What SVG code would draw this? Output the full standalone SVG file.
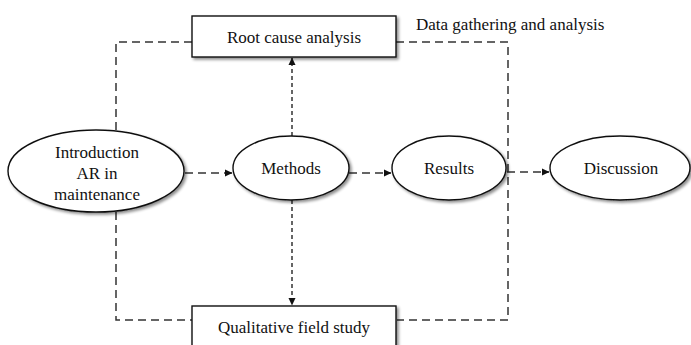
<svg xmlns="http://www.w3.org/2000/svg" width="691" height="345" viewBox="0 0 691 345">
<style>
.shape{fill:#fff;stroke:#111;stroke-width:1.4;filter:url(#sh)}
.t{font-family:'Liberation Serif','Times New Roman','DejaVu Serif',serif;font-size:17px;fill:#111;text-anchor:middle}
.dl{fill:none;stroke:#333;stroke-width:1.5;stroke-dasharray:8 5}
.ds{fill:none;stroke:#333;stroke-width:1.5;stroke-dasharray:4 3}
</style>
<defs>
<filter id="sh" x="-10%" y="-10%" width="130%" height="130%">
<feGaussianBlur in="SourceAlpha" stdDeviation="1.5"/>
<feOffset dx="2" dy="2" result="b"/>
<feComponentTransfer><feFuncA type="linear" slope="0.45"/></feComponentTransfer>
<feMerge><feMergeNode/><feMergeNode in="SourceGraphic"/></feMerge>
</filter>
<marker id="ah" markerWidth="8" markerHeight="8" refX="7" refY="4" orient="auto" markerUnits="userSpaceOnUse">
<path d="M0,0.5 L7.5,4 L0,7.5 Z" fill="#111"/>
</marker>
</defs>
<g id="connectors">
<path class="dl" d="M192,42 H116 V130"/>
<path class="dl" d="M396,42 H508 V320 H397"/>
<path class="dl" d="M116,212 V320 H192"/>
<path class="dl" d="M185,173 H232" marker-end="url(#ah)"/>
<path class="dl" d="M349,173 H391" marker-end="url(#ah)"/>
<path class="dl" d="M507,172 H549" marker-end="url(#ah)"/>
<path class="ds" d="M292,136 V58" marker-end="url(#ah)"/>
<path class="ds" d="M292,200 V305" marker-end="url(#ah)"/>
</g>
<g id="root-cause">
<rect class="shape" x="192" y="16" width="204" height="41"/>
<text class="t" x="294" y="43" font-family="Liberation Serif, serif">Root cause analysis</text>
</g>
<g id="qualitative">
<rect class="shape" x="192" y="306" width="204" height="45"/>
<text class="t" x="294" y="333" font-family="Liberation Serif, serif">Qualitative field study</text>
</g>
<g id="introduction">
<ellipse class="shape" cx="96" cy="171" rx="88" ry="41"/>
<text class="t" x="97" y="158">Introduction</text>
<text class="t" x="97" y="179">AR in</text>
<text class="t" x="97" y="200">maintenance</text>
</g>
<g id="methods">
<ellipse class="shape" cx="291" cy="168" rx="58" ry="32"/>
<text class="t" x="291" y="174">Methods</text>
</g>
<g id="results">
<ellipse class="shape" cx="449" cy="168" rx="57" ry="32"/>
<text class="t" x="449" y="174">Results</text>
</g>
<g id="discussion">
<ellipse class="shape" cx="620" cy="168" rx="70" ry="32"/>
<text class="t" x="621" y="174">Discussion</text>
</g>
<g id="label">
<text class="t" x="416" y="30" style="text-anchor:start">Data gathering and analysis</text>
</g>
</svg>
